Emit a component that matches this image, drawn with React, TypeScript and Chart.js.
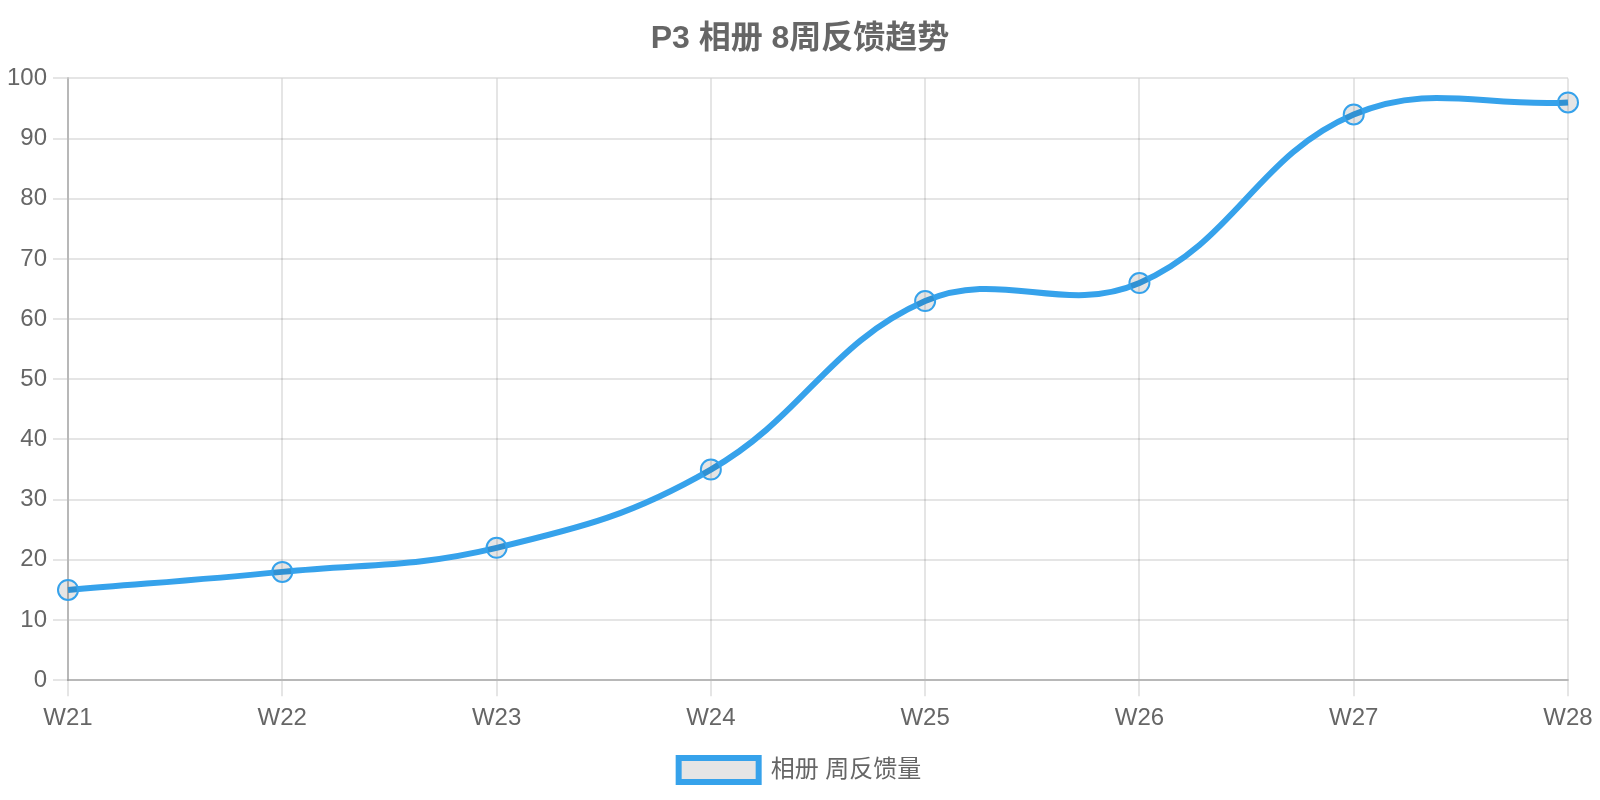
import React, { useEffect, useRef } from "react";
import { Chart, registerables } from "chart.js";

Chart.register(...registerables);

const titleText = "P3 相册 8周反馈趋势";
const categories = ["W21", "W22", "W23", "W24", "W25", "W26", "W27", "W28"];
const seriesLabel = "相册 周反馈量";
const seriesValues = [15, 18, 22, 35, 63, 66, 94, 96];

export default function App() {
  const ref = useRef<HTMLCanvasElement | null>(null);
  useEffect(() => {
    if (!ref.current) return;
    const font = "'Helvetica Neue', Helvetica, Arial, 'Liberation Sans', 'Noto Sans CJK SC', sans-serif";
    Chart.defaults.font.family = font;
    const chart = new Chart(ref.current, {
      type: "line",
      data: {
        labels: categories,
        datasets: [
          {
            label: seriesLabel,
            data: seriesValues,
            borderColor: "#36A2EB",
            backgroundColor: "rgba(0,0,0,0.1)",
            borderWidth: 6,
            tension: 0.4,
            pointRadius: 10,
            pointBorderWidth: 2,
            pointBackgroundColor: "rgba(0,0,0,0.1)",
            pointBorderColor: "#36A2EB",
            fill: false,
          },
        ],
      },
      options: {
        animation: false,
        responsive: true,
        maintainAspectRatio: false,
        layout: { padding: 0 },
        plugins: {
          title: {
            display: true,
            text: titleText,
            color: "#666",
            font: { size: 32, weight: "bold" },
            padding: { top: 12, bottom: 20 },
          },
          legend: {
            position: "bottom",
            labels: {
              color: "#666",
              font: { size: 24 },
              boxWidth: 80,
              boxHeight: 24,
              padding: 17,
            },
          },
          tooltip: { enabled: false },
        },
        scales: {
          x: {
            afterFit: (scale: any) => {
              scale.paddingRight = 24;
            },
            grid: { color: "rgba(0,0,0,0.1)", tickLength: 16, lineWidth: 2 },
            border: { color: "rgba(0,0,0,0.2)", width: 2 },
            ticks: { color: "#666", font: { size: 24 }, padding: 8 },
          },
          y: {
            min: 0,
            max: 100,
            afterFit: (scale: any) => {
              scale.width = 60;
            },
            grid: { color: "rgba(0,0,0,0.1)", tickLength: 15, lineWidth: 2 },
            border: { color: "rgba(0,0,0,0.2)", width: 2 },
            ticks: { color: "#666", font: { size: 24 }, stepSize: 10, padding: 6 },
          },
        },
      },
    });
    return () => chart.destroy();
  }, []);
  return (
    <div style={{ width: 1584, height: 784, position: "relative" }}>
      <canvas ref={ref} />
    </div>
  );
}
